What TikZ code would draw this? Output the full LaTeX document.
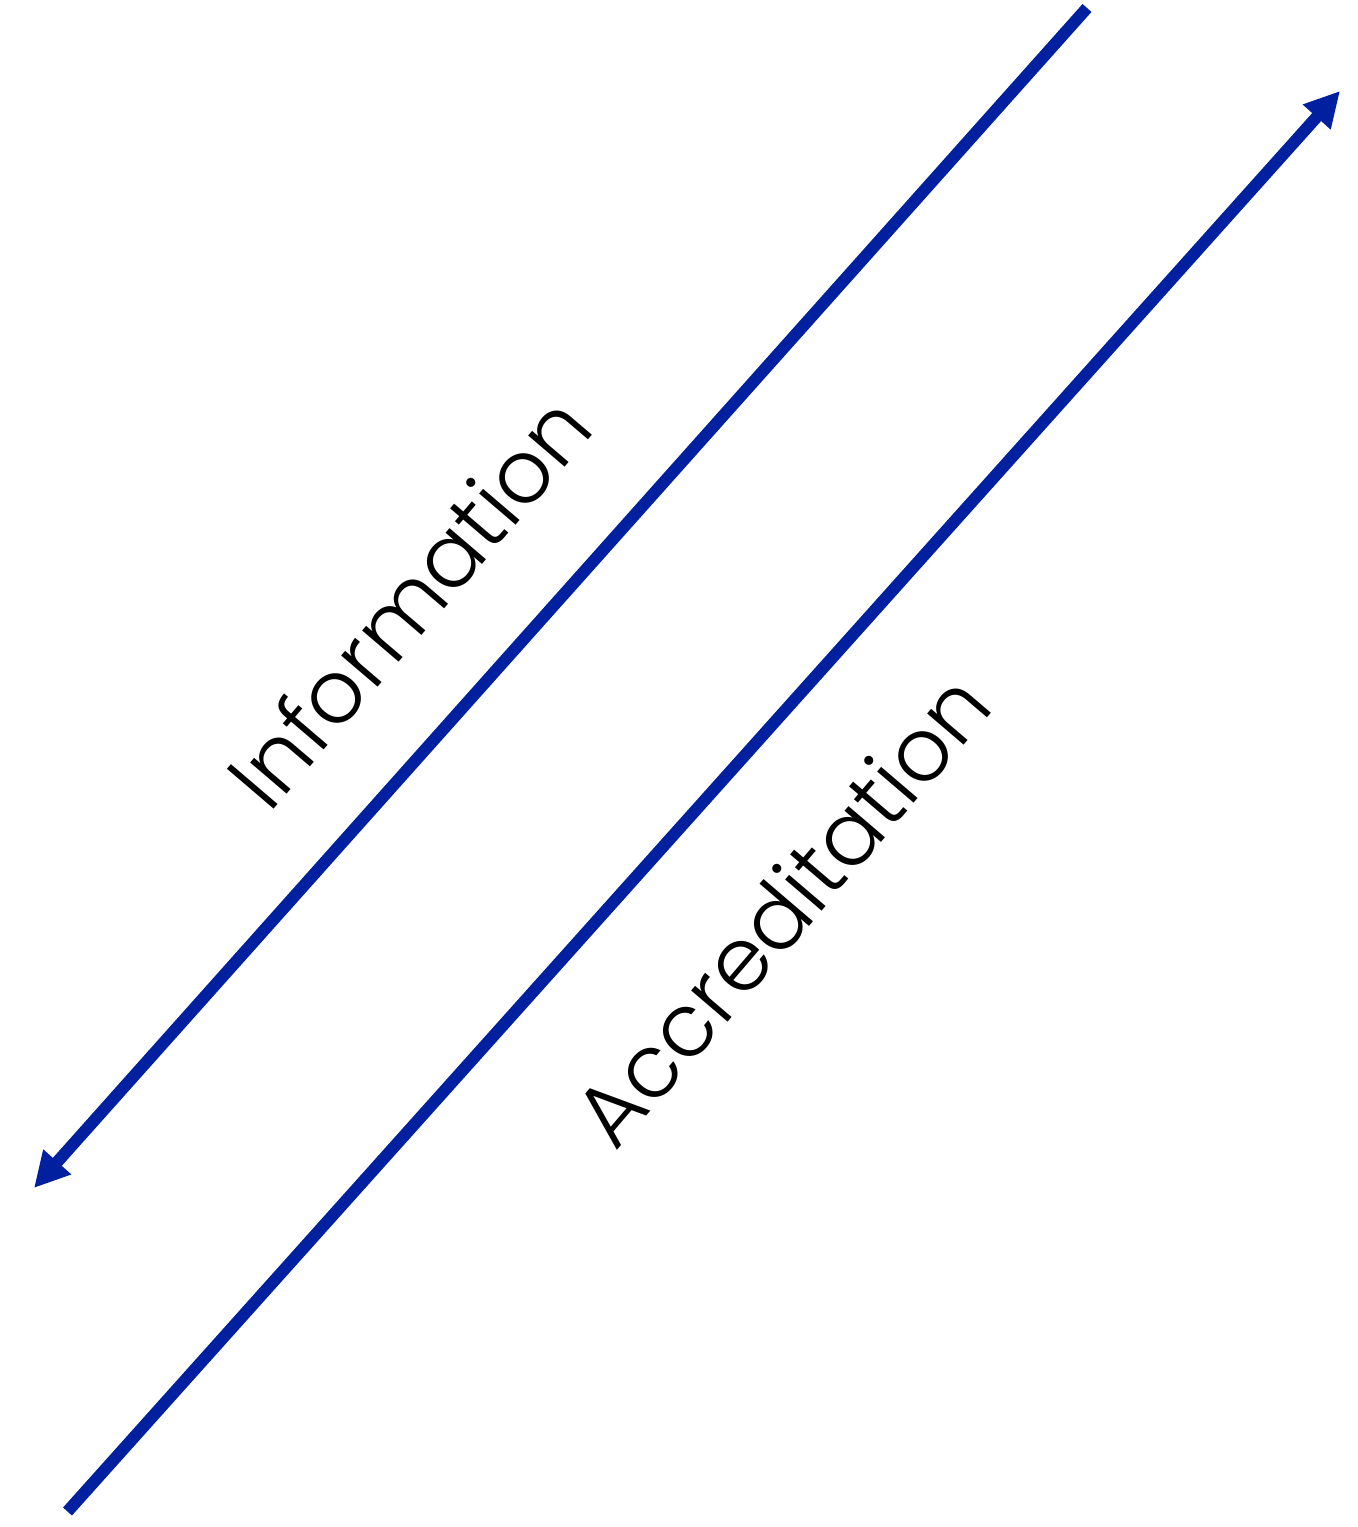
\documentclass[tikz,border=0pt]{standalone}
\usepackage{fontspec}
\newfontfamily\labelfont{Poppins}[UprightFont=* Light]
\usetikzlibrary{arrows.meta}
\definecolor{flowblue}{RGB}{0,32,159}
\tikzset{
  flow/.style={-{Triangle[length=3.5mm,width=3.5mm]},line width=3.4pt,draw=flowblue},
  flowlabel/.style={font=\labelfont\fontsize{25}{30}\selectfont,rotate=49.5,inner sep=0pt}
}
\begin{document}
\begin{tikzpicture}
    \useasboundingbox (0,0) rectangle (13.58,15.27);
    \coordinate (infostart) at (10.87,15.19); \coordinate (infoend) at (0.34,3.39);
    \coordinate (accstart) at (0.675,0.155); \coordinate (accend) at (13.40,14.36);
    \draw[flow] (infostart)--(infoend);
    \draw[flow] (accstart)--(accend);
    \node[flowlabel] (info) at (4.08,9.26) {Information};
    \node[flowlabel] (acc) at (7.81,6.18) {Accreditation};
  \end{tikzpicture}
\end{document}
